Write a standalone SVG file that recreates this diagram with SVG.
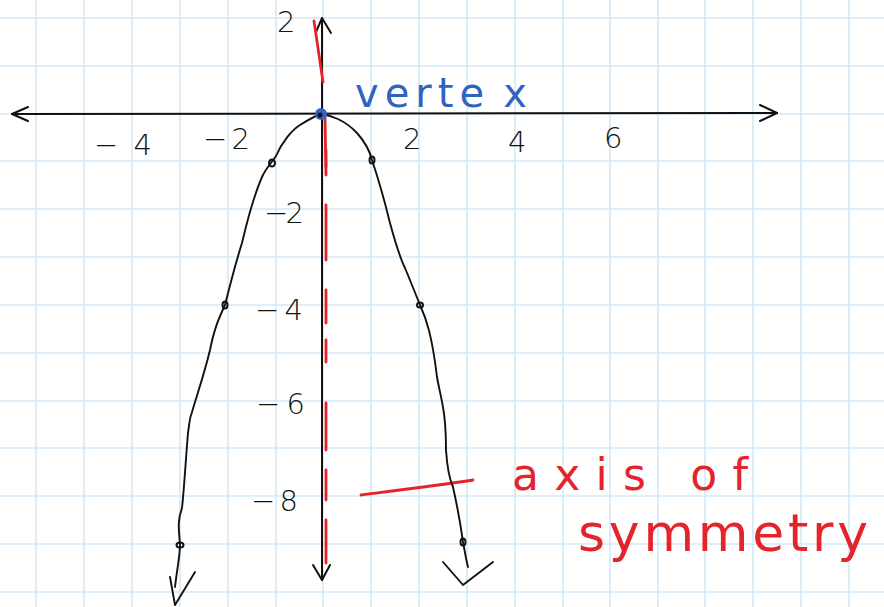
<svg xmlns="http://www.w3.org/2000/svg" width="884" height="607" viewBox="0 0 884 607">
<defs>
<style>
.grid line{stroke:#d3e9f8;stroke-width:1.6}
.ink{fill:none;stroke:#111;stroke-width:1.9;stroke-linecap:round;stroke-linejoin:round}
.axis{fill:none;stroke:#111;stroke-width:2;stroke-linecap:round;stroke-linejoin:round}
.red{fill:none;stroke:#e5232b;stroke-width:2.8;stroke-linecap:round}
.lbl{font-family:"DejaVu Sans","Liberation Sans",sans-serif;font-size:29px;fill:#111;font-weight:300}
.hw{font-family:"DejaVu Sans","Liberation Sans",sans-serif;font-weight:400}
.pt{fill:none;stroke:#111;stroke-width:2}
</style>
</defs>
<rect width="884" height="607" fill="#ffffff"/>
<g class="grid">
<line x1="36" y1="0" x2="36" y2="607"/><line x1="84" y1="0" x2="84" y2="607"/><line x1="132" y1="0" x2="132" y2="607"/><line x1="180" y1="0" x2="180" y2="607"/><line x1="228" y1="0" x2="228" y2="607"/><line x1="276" y1="0" x2="276" y2="607"/><line x1="323" y1="0" x2="323" y2="607"/><line x1="371" y1="0" x2="371" y2="607"/><line x1="419" y1="0" x2="419" y2="607"/><line x1="467" y1="0" x2="467" y2="607"/><line x1="515" y1="0" x2="515" y2="607"/><line x1="563" y1="0" x2="563" y2="607"/><line x1="610" y1="0" x2="610" y2="607"/><line x1="658" y1="0" x2="658" y2="607"/><line x1="705" y1="0" x2="705" y2="607"/><line x1="753" y1="0" x2="753" y2="607"/><line x1="801" y1="0" x2="801" y2="607"/><line x1="849" y1="0" x2="849" y2="607"/>
<line x1="0" y1="18" x2="884" y2="18"/><line x1="0" y1="66" x2="884" y2="66"/><line x1="0" y1="114" x2="884" y2="114"/><line x1="0" y1="161" x2="884" y2="161"/><line x1="0" y1="209" x2="884" y2="209"/><line x1="0" y1="257" x2="884" y2="257"/><line x1="0" y1="305" x2="884" y2="305"/><line x1="0" y1="353" x2="884" y2="353"/><line x1="0" y1="401" x2="884" y2="401"/><line x1="0" y1="448" x2="884" y2="448"/><line x1="0" y1="496" x2="884" y2="496"/><line x1="0" y1="544" x2="884" y2="544"/><line x1="0" y1="592" x2="884" y2="592"/>
</g>
<g id="axes">
<path class="axis" d="M12 114 L777 113"/>
<path class="axis" d="M28 107 L12 114 L28 121"/>
<path class="axis" d="M760 105 L777 113 L760 121"/>
<path class="axis" d="M322 18 L322 580"/>
<path class="axis" d="M316 32 L322 18 L331 33"/>
<path class="axis" d="M313 565 L322 580 L330 565"/>
</g>
<g id="symmetry-axis">
<path class="red" d="M314 21 L323 82"/>
<path class="red" d="M325 116 L326 175"/>
<path class="red" d="M326 150 L326 167 M326 205 L326 260 M326 290 L326 323 M326 340 L326 362 M326 403 L326 450 M326 470 L326 500 M326 520 L326 563"/>
<path class="red" d="M361 495 C400 490 440 485 473 480"/>
</g>
<g id="parabola">
<path class="ink" d="M175 587 C177 570 180 555 180 545 C179 530 177 522 182 508 C184 490 185 470 188 433 C190 420 189 420 192 412 C196 398 204 375 210 350 C214 330 218 320 225 305 C230 285 235 265 242 243 C247 222 252 200 262 177 C266 168 270 165 276 156 C282 142 292 130 300 125 C308 120 315 116 321 114 C330 115 345 120 357 133 C365 142 370 152 372 160 C376 172 382 190 390 223 C396 245 400 258 405 268 C410 280 416 295 420 305 C426 318 432 335 437 377 C441 400 446 410 446 450 C447 465 449 478 453 487 C457 505 460 520 463 542 C465 552 466 560 468 567"/>
<path class="ink" d="M443 562 L463 585 L493 562"/>
<path class="ink" d="M170 577 L175 605 L195 572"/>
<ellipse class="pt" cx="272" cy="163" rx="3" ry="3.5"/>
<ellipse class="pt" cx="372" cy="160" rx="2.5" ry="3.5"/>
<ellipse class="pt" cx="225" cy="305" rx="2.5" ry="3.5"/>
<ellipse class="pt" cx="420" cy="305" rx="3" ry="2.5"/>
<ellipse class="pt" cx="180" cy="545" rx="3.5" ry="2.5"/>
<ellipse class="pt" cx="463" cy="542" rx="2.5" ry="3.5"/>
</g>
<g id="vertex">
<circle cx="321" cy="114" r="6" fill="#2f63c0"/>
<circle cx="320" cy="115" r="2.5" fill="#111"/>
<text class="hw" x="355" y="107" font-size="40" fill="#2f63c0" textLength="172" lengthAdjust="spacing">verte<tspan dx="14">x</tspan></text>
</g>
<g id="labels">
<text class="lbl" x="94" y="155" textLength="58" lengthAdjust="spacing">−4</text>
<text class="lbl" x="203" y="149" textLength="47" lengthAdjust="spacing">−2</text>
<text class="lbl" x="403" y="149">2</text>
<text class="lbl" x="508" y="152">4</text>
<text class="lbl" x="604" y="148">6</text>
<text class="lbl" x="277" y="32">2</text>
<text class="lbl" x="264" y="223" textLength="40" lengthAdjust="spacing">−2</text>
<text class="lbl" x="255" y="320" textLength="48" lengthAdjust="spacing">−4</text>
<text class="lbl" x="256" y="414" textLength="49" lengthAdjust="spacing">−6</text>
<text class="lbl" x="251" y="511" textLength="47" lengthAdjust="spacing">−8</text>
</g>
<g id="annotation">
<text class="hw" x="512" y="490" font-size="44" fill="#e5232b" textLength="236" lengthAdjust="spacing">axis of</text>
<text class="hw" x="578" y="551" font-size="52" fill="#e5232b" textLength="290" lengthAdjust="spacing">symmetry</text>
</g>
</svg>
